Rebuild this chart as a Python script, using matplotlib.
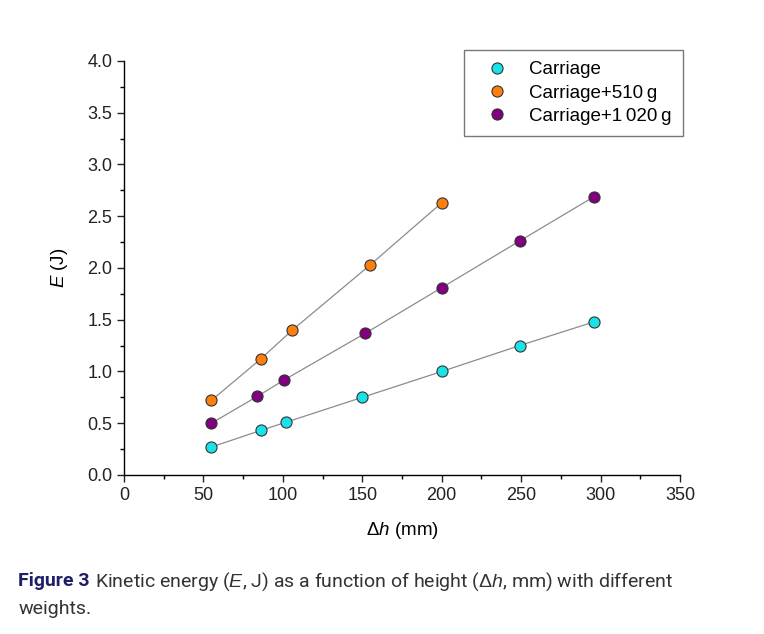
from matplotlib import pyplot as plt
from matplotlib.ticker import MultipleLocator, FormatStrFormatter
import matplotlib

matplotlib.rcParams["font.family"] = ["Liberation Sans", "DejaVu Sans"]
matplotlib.rcParams["mathtext.fontset"] = "custom"
matplotlib.rcParams["mathtext.it"] = "Liberation Sans:italic"
matplotlib.rcParams["mathtext.rm"] = "Liberation Sans"

# data
h_carriage = [55, 86, 102, 150, 200, 249, 296]
e_carriage = [0.27, 0.43, 0.51, 0.75, 1.00, 1.25, 1.48]
h_510 = [55, 86, 106, 155, 200]
e_510 = [0.72, 1.12, 1.40, 2.03, 2.63]
h_1020 = [55, 84, 101, 152, 200, 249, 296]
e_1020 = [0.50, 0.76, 0.92, 1.37, 1.81, 2.26, 2.69]
labels = ["Carriage", "Carriage+510\u2009g", "Carriage+1\u2009020\u2009g"]
colors = ["#19e3e8", "#ff7f0e", "#800080"]

fig = plt.figure(figsize=(7.64, 6.34), dpi=100)
ax = fig.add_axes([0.1623, 0.2508, 0.7277, 0.653])

for x, y, lab, c in zip([h_carriage, h_510, h_1020], [e_carriage, e_510, e_1020], labels, colors):
    ax.plot(x, y, color="#8c8c8c", lw=0.9, zorder=1)
    ax.plot(x, y, "o", ms=8, mfc=c, mec="#333333", mew=0.8, label=lab, zorder=2, ls="none")

ax.set_xlim(0, 350)
ax.set_ylim(0, 4.0)
ax.xaxis.set_major_locator(MultipleLocator(50))
ax.xaxis.set_minor_locator(MultipleLocator(25))
ax.yaxis.set_major_locator(MultipleLocator(0.5))
ax.yaxis.set_minor_locator(MultipleLocator(0.25))
ax.yaxis.set_major_formatter(FormatStrFormatter("%.1f"))
ax.spines["top"].set_visible(False)
ax.spines["right"].set_visible(False)
for s in ["left", "bottom"]:
    ax.spines[s].set_linewidth(1.0)
ax.tick_params(which="major", direction="out", length=5, width=1, labelsize=13, colors="#222222")
ax.tick_params(which="minor", direction="out", length=3, width=1)

ax.set_xlabel(r"$\Delta h$ (mm)", fontsize=13.5, labelpad=12)
ax.set_ylabel(r"$E$ (J)", fontsize=13.5, labelpad=12)

leg = fig.legend(loc="upper right", bbox_to_anchor=(0.894, 0.921), borderaxespad=0,
                 fontsize=13.5, frameon=True, fancybox=False, edgecolor="#555555",
                 handletextpad=0.5, borderpad=0.6, labelspacing=0.32, handlelength=2.4)
leg.get_frame().set_linewidth(1.0)

cap_font = ["Roboto", "DejaVu Sans"]
t1 = fig.text(0.024, 0.075, "Figure 3", fontsize=14, fontweight="bold", color="#1f1f66",
              family=cap_font)
fig.canvas.draw()
bb = t1.get_window_extent().transformed(fig.transFigure.inverted())
fig.text(bb.x1 + 0.006, 0.075,
         "Kinetic energy ($\\it{E}$, J) as a function of height ($\\Delta\\it{h}$, mm) with different",
         fontsize=14, color="#333333", family=cap_font)
fig.text(0.024, 0.032, "weights.", fontsize=14, color="#333333", family=cap_font)

plt.savefig("out.png", dpi=100)
